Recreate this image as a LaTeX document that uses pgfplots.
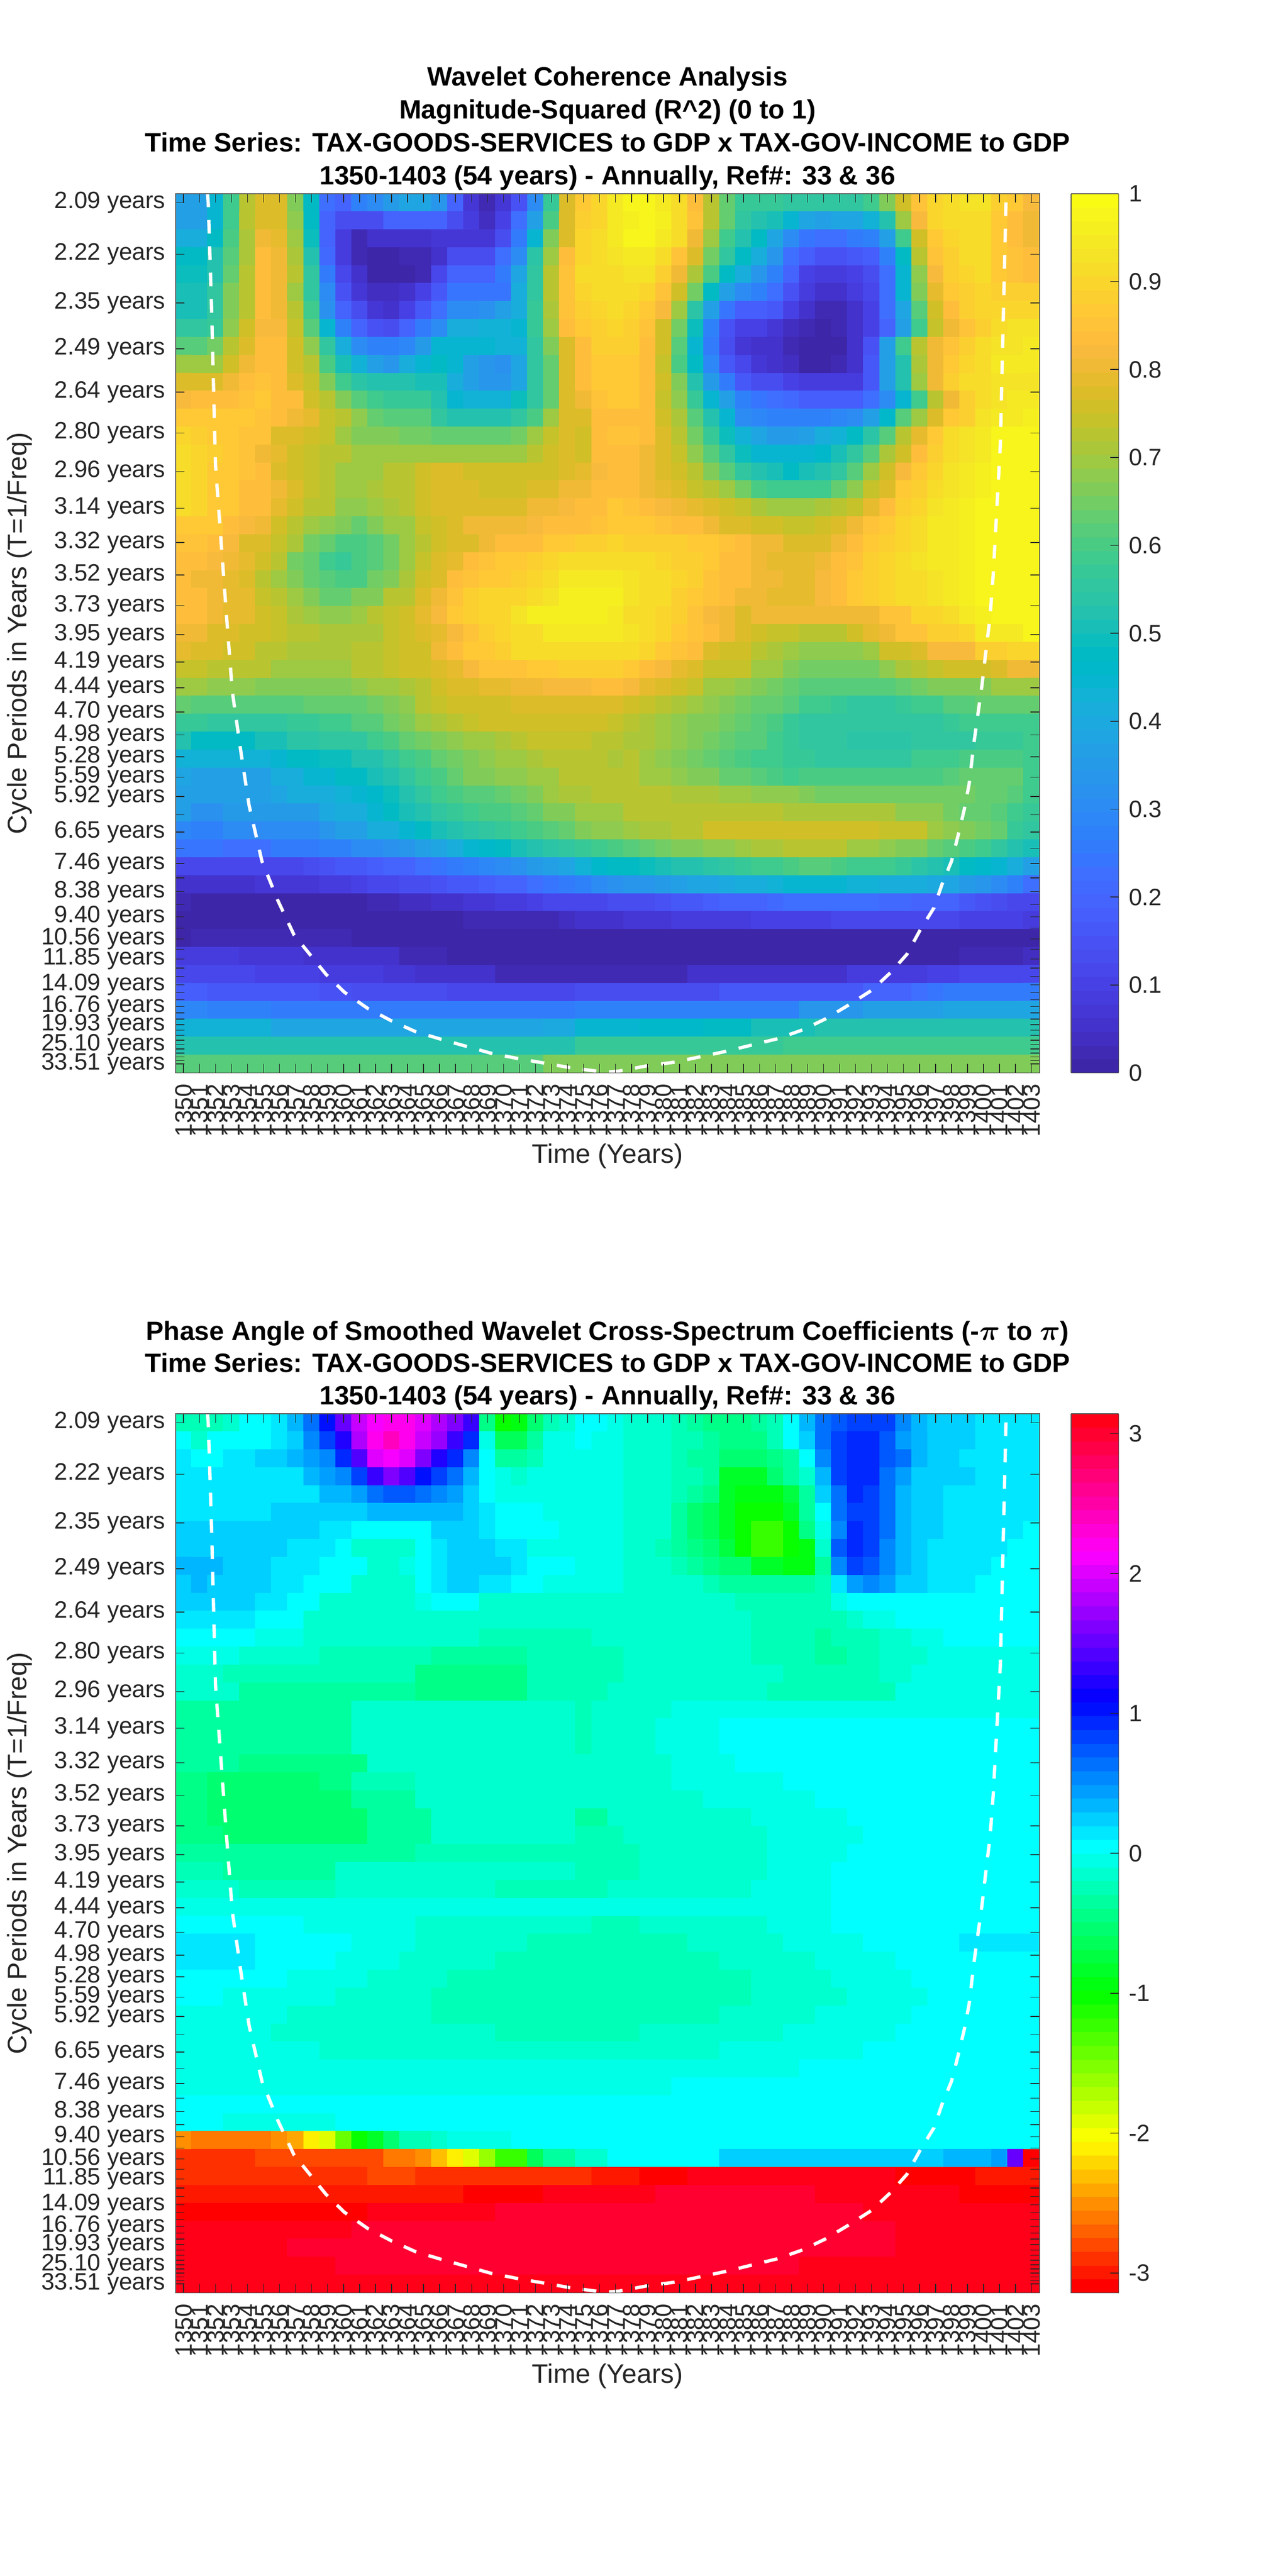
\documentclass[border=0pt]{standalone}
\usepackage{fontspec}
\setmainfont{Liberation Sans}
\usepackage{pgfplots}
\usepackage{pgfplotstable}
\usepackage{etoolbox}
\pgfplotsset{compat=1.18}
\definecolor{txt}{HTML}{262626}
\pgfplotsset{colormap={parula}{rgb=(.2422,.1504,.6603) rgb=(.2504,.1650,.7076) rgb=(.2578,.1818,.7511) rgb=(.2647,.1978,.7952) rgb=(.2706,.2147,.8364) rgb=(.2751,.2342,.8710) rgb=(.2783,.2559,.8991) rgb=(.2803,.2782,.9221) rgb=(.2813,.3006,.9414) rgb=(.2810,.3228,.9579) rgb=(.2795,.3447,.9717) rgb=(.2760,.3667,.9829) rgb=(.2699,.3892,.9906) rgb=(.2602,.4123,.9952) rgb=(.2440,.4358,.9988) rgb=(.2206,.4603,.9973) rgb=(.1963,.4847,.9892) rgb=(.1834,.5074,.9798) rgb=(.1786,.5289,.9682) rgb=(.1764,.5499,.9520) rgb=(.1687,.5703,.9359) rgb=(.1540,.5902,.9218) rgb=(.1460,.6091,.9079) rgb=(.1380,.6276,.8973) rgb=(.1248,.6459,.8883) rgb=(.1113,.6635,.8763) rgb=(.0952,.6798,.8598) rgb=(.0689,.6948,.8394) rgb=(.0297,.7082,.8163) rgb=(.0036,.7203,.7917) rgb=(.0067,.7312,.7660) rgb=(.0433,.7411,.7394) rgb=(.0964,.7500,.7120) rgb=(.1408,.7584,.6842) rgb=(.1717,.7670,.6554) rgb=(.1938,.7758,.6251) rgb=(.2161,.7843,.5923) rgb=(.2470,.7918,.5567) rgb=(.2906,.7973,.5188) rgb=(.3406,.8008,.4789) rgb=(.3909,.8029,.4354) rgb=(.4456,.8024,.3909) rgb=(.5044,.7993,.3480) rgb=(.5616,.7942,.3045) rgb=(.6174,.7876,.2612) rgb=(.6720,.7793,.2227) rgb=(.7242,.7698,.1910) rgb=(.7738,.7598,.1646) rgb=(.8203,.7498,.1535) rgb=(.8634,.7406,.1596) rgb=(.9035,.7330,.1774) rgb=(.9393,.7282,.2100) rgb=(.9728,.7298,.2394) rgb=(.9956,.7434,.2371) rgb=(.9970,.7659,.2199) rgb=(.9952,.7893,.2028) rgb=(.9892,.8136,.1885) rgb=(.9786,.8386,.1766) rgb=(.9676,.8639,.1643) rgb=(.9610,.8890,.1537) rgb=(.9597,.9135,.1423) rgb=(.9628,.9373,.1265) rgb=(.9691,.9606,.1064) rgb=(.9769,.9839,.0805)}}
\pgfplotsset{colormap={hsvsix}{rgb255(0cm)=(255,0,0) rgb255(10.667cm)=(255,255,0) rgb255(21.333cm)=(0,255,0) rgb255(32cm)=(0,255,255) rgb255(42.667cm)=(0,0,255) rgb255(53.333cm)=(255,0,255) rgb255(63cm)=(255,0,24)}}
\pgfplotsset{colormap={phase}{samples of colormap=(64 of hsvsix)}}
% ---- row readers: \R{v v v ...} plain values; \Q{n v n v ...} n cells of value v
\newcount\cc \newcount\rr \newcount\nn
\def\bangmark{!}
\gdef\rowbuf{}\gdef\allbuf{}\def\lastv{0}
\def\emit#1{\ifnum\cc<54 \xappto\rowbuf{\the\numexpr1350+\cc\relax\space\the\rr\space#1\noexpand\\}\advance\cc 1 \fi\edef\lastv{#1}}
\def\endrow{\loop\ifnum\cc<54 \emit{\lastv}\repeat\xappto\allbuf{\expandafter\unexpanded\expandafter{\rowbuf}}\gdef\rowbuf{}\cc=0 \advance\rr 1 }
\def\R#1{\Rl#1 ! }
\def\Rl#1 {\def\tmpa{#1}\ifx\tmpa\bangmark\let\nxt\endrow\else\emit{#1}\let\nxt\Rl\fi\nxt}
\def\Q#1{\Ql#1 ! ! }
\def\rep#1#2{\nn=#1\relax\loop\ifnum\nn>0 \emit{#2}\advance\nn -1 \repeat}
\def\Ql#1 #2 {\def\tmpa{#1}\ifx\tmpa\bangmark\let\nxt\endrow\else\rep{#1}{#2}\let\nxt\Ql\fi\nxt}
% ---- coherence x 100, row 0 = 2.09 years
\R{37 37 45 58 73 78 78 67 48 22 20 27 31 35 38 38 33 20 7 2 7 15 30 57 78 87 90 95 97 98 95 91 84 73 64 57 57 57 56 56 56 56 56 59 66 76 85 90 92 93 93 88 86 82}
\R{37 37 44 58 72 78 78 68 47 20 13 13 14 20 20 20 19 14 8 4 10 22 37 60 78 88 90 94 96 98 96 92 85 73 63 55 53 50 45 39 37 38 38 43 53 69 82 90 92 92 92 87 84 80}
\R{41 41 47 60 71 81 79 69 49 19 8 3 5 5 5 6 7 7 7 7 14 26 44 66 78 90 91 95 97 97 95 91 81 69 59 52 47 38 31 24 23 23 25 28 36 58 76 87 90 91 91 87 84 80}
\R{47 47 52 62 71 83 80 71 52 21 8 2 1 1 2 2 5 13 14 14 23 30 54 70 83 90 92 93 95 95 92 85 77 65 56 47 41 33 23 18 15 15 17 18 27 47 72 85 89 91 91 87 85 83}
\R{49 49 53 64 72 83 80 72 55 26 12 5 0 0 1 3 12 20 20 20 26 39 56 72 85 91 92 92 93 93 88 81 71 60 47 42 34 27 20 10 8 8 10 13 23 45 68 82 88 90 91 87 85 84}
\R{51 51 55 66 72 83 80 69 56 30 15 7 4 4 6 10 17 24 24 24 24 41 56 72 85 90 91 91 92 90 85 76 65 48 36 31 28 23 15 9 6 6 9 11 23 44 67 79 87 89 90 88 88 88}
\R{51 51 55 66 73 83 80 73 58 32 20 13 7 6 10 17 23 31 31 32 37 42 57 71 85 88 90 91 90 87 82 69 54 36 24 18 18 16 10 6 3 3 6 10 23 38 62 76 84 88 90 90 90 90}
\R{55 55 57 68 75 82 82 74 62 44 28 20 15 14 19 26 31 42 42 43 43 45 57 70 83 87 89 90 88 85 76 65 49 27 15 10 10 7 4 2 0 2 5 10 20 36 59 74 80 85 88 92 93 93}
\R{61 61 65 72 77 84 84 76 68 55 42 30 27 27 29 35 44 45 45 44 43 43 55 66 78 84 88 88 88 84 75 61 44 26 13 7 6 5 2 0 0 1 6 15 37 58 73 80 85 88 91 93 93 94}
\R{70 70 70 75 80 84 84 75 72 60 50 43 37 34 41 45 47 45 36 33 32 38 56 64 77 83 86 87 86 83 74 60 47 29 17 12 7 6 4 1 1 2 6 17 37 53 71 80 87 90 92 94 94 94}
\R{77 77 77 80 83 85 84 78 74 67 59 54 52 52 52 51 50 41 36 33 34 38 55 64 77 83 86 87 86 83 75 66 52 35 26 17 13 13 10 8 8 8 9 17 36 53 69 80 88 91 92 93 93 93}
\R{82 83 83 84 85 86 84 83 75 72 66 62 58 57 57 57 53 45 43 43 43 49 55 64 77 80 85 86 86 83 74 68 57 45 36 28 24 22 21 18 18 18 18 23 30 44 58 73 81 88 92 93 94 94}
\R{87 87 87 86 86 85 83 81 79 74 72 68 64 61 61 61 56 53 52 52 52 56 60 69 78 77 83 84 84 83 76 71 62 53 44 31 29 28 28 28 28 29 31 37 46 62 69 78 86 89 93 94 95 96}
\R{90 88 86 86 85 85 78 78 75 74 70 67 67 66 65 65 64 64 64 64 64 65 69 74 78 76 84 85 85 83 77 72 65 57 49 43 38 35 35 37 42 43 47 54 62 72 79 86 91 93 95 97 98 98}
\R{91 90 88 86 85 81 79 75 74 73 72 70 70 70 69 69 69 69 69 69 69 70 72 75 77 76 83 83 83 81 77 74 68 61 56 49 44 44 44 44 46 51 56 62 71 75 83 88 91 93 95 98 98 98}
\R{91 90 87 87 85 83 78 76 74 72 70 70 70 72 73 76 77 77 75 75 75 75 75 76 78 79 82 84 83 80 78 75 72 67 62 56 53 51 48 50 53 56 61 69 75 82 87 90 93 95 96 98 98 98}
\R{91 90 87 87 84 83 80 78 74 72 70 70 71 72 72 76 78 78 78 76 76 76 78 78 80 80 83 83 83 81 79 77 74 72 69 65 60 59 58 58 59 64 68 74 78 86 89 92 93 94 96 98 98 98}
\R{91 90 87 87 84 83 79 75 73 72 68 68 70 71 72 76 78 78 78 78 78 78 80 80 82 83 84 86 85 84 82 81 79 77 75 74 71 70 69 69 71 72 74 79 83 88 90 93 94 96 97 98 98 98}
\R{86 86 86 84 82 80 76 73 69 68 66 64 66 69 70 74 75 78 80 80 80 81 82 83 83 84 85 86 86 86 85 84 84 80 78 77 76 76 74 74 76 78 81 85 87 90 92 94 95 96 98 98 98 98}
\R{85 85 84 82 78 77 74 71 65 63 60 60 61 65 70 73 76 78 78 81 83 83 84 86 86 88 88 90 89 89 88 88 87 86 85 84 80 80 78 78 78 81 84 86 89 90 92 94 95 96 97 98 98 98}
\R{84 84 82 80 79 76 72 65 64 59 57 60 61 65 69 74 77 79 83 85 86 87 88 90 91 91 92 92 92 91 90 89 88 87 84 83 81 79 79 79 81 84 85 88 90 92 93 94 95 96 98 98 98 98}
\R{84 80 80 79 78 73 70 66 63 61 60 60 65 67 71 75 78 84 85 86 87 89 90 91 94 94 94 94 93 92 92 90 88 85 84 83 81 80 79 79 82 84 86 88 90 91 92 93 95 96 97 98 98 98}
\R{83 83 81 79 79 74 73 69 67 63 63 66 67 72 73 77 81 85 88 90 90 90 92 93 96 96 96 96 93 92 91 89 87 85 83 81 80 79 79 79 82 84 86 88 90 91 92 93 95 96 97 98 98 98}
\R{83 83 81 79 79 76 74 71 69 68 68 70 72 74 76 79 82 87 88 90 90 93 96 96 96 96 96 95 92 92 90 88 85 82 80 78 80 80 80 80 80 80 80 80 85 85 90 90 92 94 96 98 98 98}
\R{81 81 78 78 76 76 74 73 72 71 71 71 71 74 75 77 79 82 85 88 90 92 92 95 95 95 95 95 93 92 90 87 85 84 81 78 76 74 74 73 73 73 75 79 80 85 85 88 88 90 95 95 95 97}
\R{79 77 77 75 75 73 73 71 71 71 71 72 73 74 76 76 81 84 87 87 88 92 92 92 92 92 92 92 91 90 87 85 83 78 76 75 72 71 70 68 68 68 68 70 75 75 78 82 82 82 88 88 90 90}
\R{74 74 72 72 72 72 70 70 70 70 70 72 72 74 75 75 77 79 82 85 85 85 86 87 88 88 88 88 87 84 82 79 77 74 74 74 69 69 67 65 65 65 65 65 68 71 72 74 75 76 76 78 80 81}
\R{69 69 68 68 68 66 66 66 66 66 66 68 69 70 71 72 76 77 77 79 79 80 81 82 82 82 83 83 82 79 77 76 74 70 69 68 66 65 64 62 61 61 61 61 62 63 65 66 66 66 67 70 70 70}
\R{64 62 61 61 61 61 61 61 63 63 63 63 65 66 68 73 74 75 75 76 76 78 78 78 78 78 78 78 76 74 73 71 70 68 66 65 64 63 61 59 58 57 56 56 56 57 59 59 61 61 63 63 64 64}
\R{57 57 56 56 56 56 56 57 57 59 59 62 62 65 67 70 71 73 74 75 76 75 75 75 75 76 75 74 72 71 69 68 67 67 65 64 61 60 57 56 56 55 55 55 55 55 55 55 57 58 59 59 59 59}
\R{52 48 48 48 48 50 50 54 54 56 56 56 58 60 64 65 66 68 70 70 71 72 74 74 74 74 73 72 71 71 70 68 66 65 64 62 61 59 57 56 56 55 54 54 54 54 55 55 56 56 57 57 57 59}
\R{43 43 43 43 43 43 45 47 47 49 49 52 52 56 58 60 63 65 67 68 70 70 71 72 72 72 72 71 72 70 68 67 65 63 61 60 58 58 57 57 56 55 55 55 55 56 58 58 59 60 60 60 60 59}
\R{39 37 37 37 37 37 41 41 45 45 48 48 50 52 56 58 60 63 66 66 68 68 70 70 72 72 72 72 72 70 70 68 66 66 64 64 62 60 59 60 60 60 60 60 60 60 60 60 61 63 64 64 63 59}
\R{37 36 36 36 36 36 38 42 42 42 43 44 46 49 52 56 58 60 62 62 64 65 67 69 71 71 72 72 72 72 72 71 71 71 70 69 68 68 68 66 65 65 65 65 65 65 65 65 65 65 64 64 62 58}
\R{36 32 32 35 35 35 35 35 35 40 41 41 45 48 50 52 56 57 58 60 60 62 64 66 67 69 69 70 73 73 73 73 73 73 73 73 73 73 71 71 71 71 71 71 71 68 68 68 65 64 64 62 59 57}
\R{29 28 28 31 31 31 31 31 31 33 37 37 41 41 44 48 50 52 54 55 57 59 60 62 64 66 68 68 70 71 71 73 73 76 76 76 76 76 76 76 76 76 76 76 74 74 74 70 68 66 65 63 57 55}
\R{24 24 24 22 22 23 25 25 25 27 28 30 31 32 34 37 39 42 44 46 48 50 52 54 56 57 58 60 61 63 65 66 66 68 68 69 71 71 72 72 72 72 70 70 68 67 66 64 62 60 58 55 53 50}
\R{11 11 11 11 12 12 12 12 14 15 16 16 18 19 20 23 24 26 28 29 30 32 35 37 39 43 46 47 48 49 50 52 53 54 56 57 58 59 60 61 61 60 59 58 58 57 54 52 50 48 46 44 41 37}
\R{6 6 6 6 5 7 7 7 7 8 9 10 11 12 13 14 15 16 17 18 19 20 22 24 26 28 30 32 33 34 35 36 38 39 40 41 42 43 44 44 44 44 43 43 42 41 41 40 38 35 33 31 27 22}
\R{2 0 0 0 0 0 0 0 0 1 1 1 3 3 4 4 5 6 7 7 8 9 10 11 12 12 12 13 13 14 15 16 17 18 19 19 20 21 22 22 22 22 22 22 21 21 20 20 19 17 15 13 12 11}
\Q{18 0 3 2 3 3 1 4 1 5 2 6 3 7 1 8 1 8 1 8 2 9 2 10 3 10 2 11 6 11 4 10 1 9 1 8 1 7 1 6 1 5 1 4 1 3}
\Q{1 1 5 3 5 2 43 0}
\Q{4 8 4 7 3 6 3 5 3 3 6 1 20 0 6 1 4 2 1 4}
\Q{5 11 4 10 2 9 2 8 2 7 5 6 12 3 6 5 4 6 5 9 2 10 5 11}
\Q{2 18 7 16 2 15 6 13 8 12 4 13 5 14 7 16 2 17 3 20 1 22 1 24 2 25 4 26}
\Q{2 29 4 27 19 25 7 27 7 28 3 33 1 34 2 36 3 37 6 39}
\Q{6 43 17 38 2 40 4 44 4 46 3 47 4 50 14 52}
\Q{25 53 13 57 16 59}
\Q{23 62 31 66}
\global\let\PanelA\allbuf
\gdef\allbuf{}\rr=0 \cc=0
% ---- phase x 100
\R{-25 -22 -22 -12 0 7 15 30 60 105 150 195 215 220 220 205 180 165 135 -40 -105 -95 -50 -25 -10 2 2 -8 -10 -10 -15 -27 -30 -40 -40 -40 -35 -20 0 30 60 75 85 85 80 55 35 25 25 25 12 10 10 10}
\R{0 -10 0 0 7 7 17 28 50 80 120 185 225 245 225 190 170 130 90 -7 -60 -60 -30 -8 -5 0 -3 -8 -10 -12 -15 -20 -28 -33 -48 -48 -48 -20 0 25 60 85 95 95 75 45 30 22 22 22 12 10 10 10}
\R{10 0 0 10 10 20 20 30 45 55 90 140 200 210 200 165 125 90 55 0 -35 -35 -22 -5 -3 -5 -6 -7 -10 -12 -13 -20 -30 -32 -50 -50 -50 -45 -30 8 50 85 97 97 70 65 33 20 20 12 10 10 10 10}
\R{12 12 12 12 12 18 18 18 35 42 50 88 128 160 145 105 82 60 30 0 -8 -12 -8 -5 -2 -5 -5 -5 -12 -12 -17 -22 -27 -38 -80 -80 -80 -55 -35 -10 35 88 97 97 62 42 25 22 22 20 12 12 10 10}
\R{10 10 10 10 10 17 17 17 17 32 32 43 62 72 72 68 50 43 28 0 -3 -8 -8 -2 -2 -3 -4 -4 -10 -10 -17 -20 -30 -45 -80 -90 -95 -90 -75 -33 27 62 95 82 62 33 22 22 15 15 15 15 15 15}
\Q{6 12 6 22 6 33 1 22 1 15 3 0 2 -2 1 -3 1 -4 1 -5 1 -10 1 -12 1 -18 1 -30 1 -50 1 -65 1 -85 3 -100 1 -85 1 -35 1 8 1 62 2 82 1 62 1 35 2 22 6 15}
\Q{9 20 2 10 4 0 1 8 3 20 1 10 4 0 4 -5 2 -12 1 -18 1 -30 1 -50 1 -65 1 -85 1 -100 1 -125 1 -120 1 -100 1 -45 1 -5 1 55 1 95 1 80 1 60 1 35 2 22 5 15 1 0}
\Q{7 20 3 10 1 0 4 -10 1 0 1 10 3 20 2 12 6 -3 1 -12 1 -18 1 -22 1 -30 1 -40 1 -55 1 -70 1 -100 1 -120 1 -125 1 -105 1 -90 1 -12 1 70 1 95 1 85 1 50 1 33 1 22 3 15 2 12 2 0}
\Q{3 33 3 20 3 10 3 0 2 -15 1 -5 1 0 1 10 4 20 1 15 3 0 3 -3 2 -10 1 -18 1 -22 1 -30 1 -45 1 -50 1 -55 2 -80 2 -95 1 -30 1 55 1 85 1 75 1 50 1 33 1 22 1 15 3 12 3 0}
\Q{1 20 1 33 4 20 2 10 3 0 4 -13 1 0 1 10 2 20 2 12 2 0 5 -3 3 -10 1 -12 1 -15 1 -22 3 -30 3 -38 1 -20 1 10 1 42 1 58 1 42 2 27 1 15 1 13 1 12 4 0}
\Q{5 20 2 10 2 0 6 -10 1 -3 3 0 4 -10 2 -12 10 -15 6 -22 1 -5 1 0 6 7 5 0}
\Q{5 10 3 0 12 -10 3 -15 2 -10 11 -12 6 -20 1 -12 2 -8 9 0}
\Q{5 0 3 -5 7 -10 4 -15 2 -27 4 -22 1 -25 10 -12 4 -25 1 -30 3 -25 2 -13 2 -7 6 0}
\Q{3 -5 1 -8 5 -13 7 -20 6 -38 3 -20 3 -25 8 -15 4 -25 2 -38 2 -25 3 -13 7 -5}
\Q{3 -10 12 -22 7 -40 6 -25 10 -15 6 -25 2 -13 8 -6}
\Q{4 -13 11 -30 7 -40 4 -25 1 -20 7 -13 3 -10 8 -20 9 -7}
\Q{11 -38 14 -18 1 -22 5 -13 23 -7}
\Q{11 -38 14 -18 1 -22 4 -13 4 -5 20 0}
\Q{11 -38 14 -18 1 -20 4 -13 4 -5 20 0}
\Q{4 -38 4 -48 4 -40 13 -18 6 -13 4 -5 19 0}
\Q{2 -40 7 -52 2 -48 4 -25 11 -18 5 -13 7 -5 16 0}
\Q{2 -40 9 -55 4 -33 12 -18 6 -13 7 -7 14 0}
\Q{2 -43 10 -55 4 -33 9 -18 2 -30 9 -12 6 -5 12 0}
\Q{3 -40 9 -50 4 -33 9 -18 3 -28 9 -12 6 -5 11 0}
\Q{15 -38 10 -20 4 -28 8 -12 5 -5 12 0}
\Q{3 -22 7 -38 15 -18 4 -28 8 -13 4 -5 13 0}
\Q{4 -10 6 -25 10 -12 7 -25 9 -12 5 -5 6 0 7 7}
\Q{36 -8 5 -4 5 0 8 8}
\Q{8 0 7 -8 11 -12 3 -20 8 -10 4 -5 6 0 7 8}
\Q{5 12 6 0 4 -5 7 -12 10 -22 6 -12 5 -5 6 0 5 10}
\Q{5 12 5 0 4 -5 6 -12 14 -25 6 -12 5 -5 7 0 2 8}
\Q{7 0 5 -5 5 -12 19 -27 5 -12 5 -5 8 0}
\Q{3 0 4 -3 3 -6 6 -12 20 -27 6 -13 5 -5 7 0}
\Q{7 -5 9 -12 18 -26 6 -13 6 -5 8 0}
\Q{6 -5 14 -12 9 -25 9 -12 7 -5 9 0}
\Q{9 -5 25 -12 9 -5 11 0}
\Q{39 -9 15 0}
\Q{31 -7 23 0}
\Q{54 0}
\Q{3 0 7 -5 44 0}
\Q{1 -250 5 -265 1 -250 1 -240 1 -215 1 -190 1 -140 1 -105 1 -80 1 -50 2 -25 1 -15 4 -5 7 0 26 8}
\Q{5 -285 8 -275 2 -265 1 -250 1 -235 1 -215 1 -195 1 -165 2 -120 1 -60 2 -30 2 -10 2 0 5 8 14 20 3 32 1 42 1 150 1 -314}
\Q{12 -285 3 -280 8 -285 3 -290 3 -302 3 -314 13 308 5 -314 4 -300}
\Q{3 -300 8 -295 7 -300 5 -314 7 305 10 295 9 305 5 -314}
\Q{12 -314 8 308 23 295 11 305}
\Q{11 305 34 295 9 305}
\Q{7 305 38 295 9 305}
\Q{10 305 29 295 15 305}
\Q{54 305}
\global\let\PanelB\allbuf
% cone of influence: year, row position
\pgfplotstableread{
x y
1351.5 -0.5
1351.55 0.1
1351.75 5.8
1352.0 14.65
1352.7 23.2
1353.05 27.25
1353.6 30.7
1354.1 33.6
1354.9 36.7
1355.9 38.9
1356.9 40.8
1357.9 41.9
1358.9 43.0
1360.05 44.0
1361.5 44.9
1363 45.6
1364.5 46.2
1366 46.6
1367.6 47.0
1369.2 47.4
1370.9 47.7
1372.6 47.96
1374.1 48.2
1375.8 48.4
1376.5 48.45
1377.2 48.4
1379 48.1
1380.7 47.9
1382.3 47.6
1383.9 47.3
1385.5 46.95
1387.1 46.6
1388.7 46.1
1390.1 45.5
1391.6 44.7
1393 43.9
1394.2 42.9
1395.2 41.9
1396 40.6
1396.9 39.3
1397.4 38
1398 36.7
1398.4 35.3
1398.8 33.8
1399.1 32.4
1399.4 30.1
1399.9 26.9
1400.2 24.6
1400.4 23.15
1400.6 20.8
1401.05 13.5
1401.4 0.05
1401.42 -0.5
}\coi
\pgfplotsset{
 panel/.style={
  scale only axis,width=524.25pt,height=533.5pt,
  xmin=1349.5,xmax=1403.5,ymin=-0.5,ymax=48.5,y dir=reverse,
  axis on top,tick align=inside,major tick length=5.5pt,
  every tick/.style={color=txt,line width=0.45pt},
  axis line style={color=txt!75,line width=0.55pt},
  /pgf/number format/1000 sep={},/pgf/number format/assume math mode=true,
  xtick={1350,1351,...,1403},
  ytick={0,2.874,5.586,8.146,10.562,12.843,14.996,17.028,18.946,20.756,22.465,24.077,25.6,27.036,28.393,29.672,30.881,32.021,33.098,34.114,35.073,35.978,36.832,37.638,38.399,39.118,39.796,40.436,41.04,41.61,42.149,42.657,43.136,43.588,44.015,44.418,44.799,45.159,45.497,45.817,46.12,46.405,46.674,46.928,47.168,47.394,47.607,47.809,48},
  yticklabels={2.09 years,2.22 years,2.35 years,2.49 years,2.64 years,2.80 years,2.96 years,3.14 years,3.32 years,3.52 years,3.73 years,3.95 years,4.19 years,4.44 years,4.70 years,4.98 years,5.28 years,5.59 years,5.92 years,,6.65 years,,7.46 years,,8.38 years,,9.40 years,,10.56 years,,11.85 years,,,14.09 years,,,16.76 years,,,19.93 years,,,,25.10 years,,,,,33.51 years},
  xticklabel style={rotate=90,anchor=east,inner sep=0pt,font=\fontsize{14.4}{14.4}\selectfont,text=txt},
  xticklabel shift=6.5pt,
  yticklabel style={inner sep=0pt,font=\fontsize{14.4}{14.4}\selectfont,text=txt},
  yticklabel shift=6pt,
  every axis x label/.style={at={(axis description cs:0.5,0)},anchor=center,yshift=-50.5pt,font=\fontsize{16.2}{16.2}\selectfont,text=txt},
  every axis y label/.style={at={(axis description cs:0,0.5)},rotate=90,anchor=center,yshift=94.5pt,font=\fontsize{16.2}{16.2}\selectfont,text=txt},
  xlabel={Time (Years)},ylabel={Cycle Periods in Years (T=1/Freq)},
  colormap access=piecewise constant,
  colorbar sampled,
  every axis title/.style={at={(axis description cs:0.5,1)},anchor=south,yshift=2pt,inner sep=0pt,align=center},
 },
 cbar/.style={
  at={(parent axis.north east)},anchor=north west,xshift=10.5pt,
  scale only axis,width=29pt,height=533.5pt,samples=65,
  tick align=inside,major tick length=5pt,ytick pos=right,xtick=\empty,
  every tick/.style={color=txt,line width=0.45pt},
  axis line style={color=txt!75,line width=0.55pt},
  yticklabel pos=right,
  yticklabel style={inner sep=0pt,font=\fontsize{14.4}{14.4}\selectfont,text=txt},
  yticklabel shift=6pt,
 },
}
\newcommand\drawmatrix[1]{\edef\doplot{\unexpanded{\addplot[matrix plot*,mesh/cols=54,point meta=\thisrowno{2}/100] table[row sep=crcr,header=false]}{\expandafter\unexpanded\expandafter{#1}};}\doplot}
\begin{document}
\begin{tikzpicture}
\path[use as bounding box] (0,0) rectangle (781.25pt,1563pt);
\begin{axis}[panel,at={(106.5pt,912pt)},anchor=south west,
  colormap name=parula,point meta min=0,point meta max=1,
  colorbar style={cbar,ytick={0,0.1,0.2,0.3,0.4,0.5,0.6,0.7,0.8,0.9,1},yticklabels={0,0.1,0.2,0.3,0.4,0.5,0.6,0.7,0.8,0.9,1}},
  title style={font=\fontsize{16.1}{20}\selectfont\bfseries},
  title={Wavelet Coherence Analysis\\Magnitude-Squared (R\char`\^2) (0 to 1)\\Time Series: TAX-GOODS-SERVICES to GDP x TAX-GOV-INCOME to GDP\\1350-1403 (54 years) - Annually, Ref\#: 33 \& 36}]
\drawmatrix{\PanelA}
\addplot[white,line width=2pt,dash pattern=on 8.25pt off 7.75pt,no markers,forget plot] table[x=x,y=y] {\coi};
\end{axis}
\begin{axis}[panel,at={(106.5pt,171.75pt)},anchor=south west,
  colormap name=phase,point meta min=-3.14159,point meta max=3.14159,
  colorbar style={cbar,ytick={-3,-2,-1,0,1,2,3},yticklabels={-3,-2,-1,0,1,2,3}},
  title style={font=\fontsize{16.1}{19.5}\selectfont\bfseries},
  title={Phase Angle of Smoothed Wavelet Cross-Spectrum Coefficients (-{\boldmath$\pi$} to {\boldmath$\pi$})\\Time Series: TAX-GOODS-SERVICES to GDP x TAX-GOV-INCOME to GDP\\1350-1403 (54 years) - Annually, Ref\#: 33 \& 36}]
\drawmatrix{\PanelB}
\addplot[white,line width=2pt,dash pattern=on 8.25pt off 7.75pt,no markers,forget plot] table[x=x,y=y] {\coi};
\end{axis}
\end{tikzpicture}
\end{document}
